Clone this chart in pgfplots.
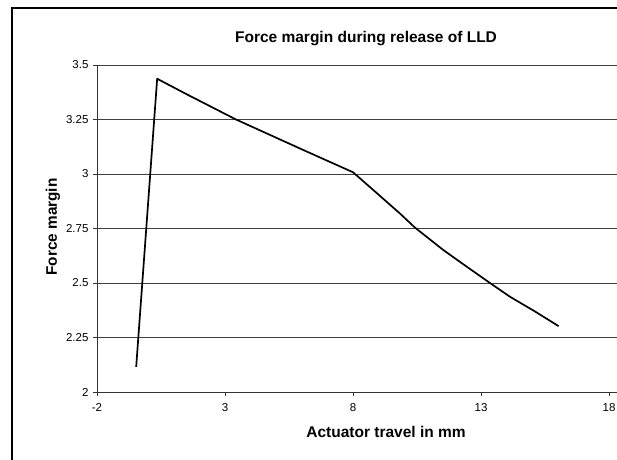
\documentclass[border=0pt]{standalone}
\usepackage{pgfplots}
\pgfplotsset{compat=1.18}
\usepackage{fontspec}
\setmainfont{Liberation Sans}
\begin{document}
\begin{tikzpicture}[x=1pt,y=1pt]
\useasboundingbox (0,0) rectangle (617,-459);
\draw[line width=2pt] (12,-460) -- (12,-8) -- (618,-8);
\node[font=\bfseries\fontsize{15.5}{18}\selectfont] at (366,-39) {Force margin during release of LLD};
\begin{axis}[
  at={(97pt,-392pt)}, anchor=south west,
  scale only axis, width=520pt, height=327pt,
  xmin=-2, xmax=18.31, ymin=2, ymax=3.5,
  axis lines=left,
  axis line style={-, line width=1pt, black!80},
  xtick={-2,3,8,13,18},
  ytick={2,2.25,2.5,2.75,3,3.25,3.5},
  yticklabels={2,2.25,2.5,2.75,3,3.25,3.5},
  xticklabels={-2,3,8,13,18},
  tick align=outside,
  major tick length=4pt,
  tick style={black!80, line width=0.8pt},
  ymajorgrids,
  grid style={black!75, line width=0.9pt},
  ticklabel style={font=\fontsize{11.5}{13}\selectfont},
  /pgf/number format/assume math mode=true,
  xticklabel style={yshift=-4pt},
  yticklabel style={xshift=-1pt},
  clip=false,
]
\addplot[black, line width=1.7pt, line join=round] coordinates {
(-0.47,2.115) (0.35,3.437) (1.5,3.366) (3.43,3.25) (6.06,3.11) (8.0,3.008)
(9.0,2.905) (9.84,2.818) (10.42,2.754) (11.53,2.651) (12.44,2.575) (13.35,2.5)
(14.13,2.437) (15.1,2.37) (16.03,2.302)
};
\end{axis}
\node[font=\bfseries\fontsize{15.5}{18}\selectfont] at (386,-432) {Actuator travel in mm};
\node[font=\bfseries\fontsize{15.3}{18}\selectfont, rotate=90] at (53,-227) {Force margin};
\end{tikzpicture}
\end{document}
